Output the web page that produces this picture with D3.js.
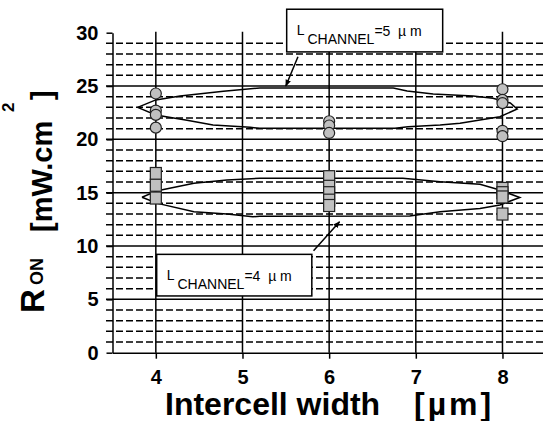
<!DOCTYPE html>
<html>
<head>
<meta charset="utf-8">
<script src="https://cdn.jsdelivr.net/npm/d3@7"></script>
<style>
  body { margin: 0; background: #fff; }
  svg text { font-family: "Liberation Sans", Arial, sans-serif; }
</style>
</head>
<body>
<svg id="chart" width="543" height="421"></svg>
<script>
// data
var widths = [4, 6, 8];
var xTicks = [4, 5, 6, 7, 8];
var yTicks = [0, 5, 10, 15, 20, 25, 30];
var ron5 = [[24.3, 22.7, 22.3, 21.1], [21.7, 21.3, 20.6], [24.7, 23.7, 23.4, 20.8, 20.3]];
var ron4 = [[16.8, 15.7, 14.5], [16.5, 15.6, 15.0, 14.3, 13.8], [15.4, 15.0, 14.6, 13.0]];

// hand drawn outlines round each group (x, y in data units)
var loop5 = [[3.79,23.0],[4.0,23.7],[4.28,24.07],[4.78,24.5],[5.2,24.82],[6.74,24.82],[6.9,24.53],[7.2,24.25],
  [7.66,24.07],[7.89,23.85],[8.09,23.41],[8.17,22.85],[7.97,22.12],[7.51,21.51],[7.28,21.35],[6.91,21.19],
  [6.76,21.04],[5.2,21.04],[5.09,21.13],[4.66,21.35],[4.36,21.8],[4.0,22.28],[3.79,23.0]];
var loop4 = [[3.84,14.57],[4.02,15.19],[4.44,15.88],[4.82,16.19],[5.2,16.35],[6.85,16.35],[7.28,16.03],[7.74,15.79],
  [7.97,15.25],[8.2,14.55],[7.97,13.85],[7.74,13.52],[7.28,13.22],[6.93,12.82],[5.2,12.79],[5.12,12.75],
  [4.82,13.0],[4.44,13.22],[4.02,14.0],[3.84,14.57]];

var labels = [
  {num: '5', box: [5.51, 32.2, 7.31, 28.2], from: [5.64, 27.75], to: [5.5, 25.0]},
  {num: '4', box: [4.01, 9.22, 5.8, 5.32], from: [5.82, 9.56], to: [6.12, 12.28]}
];

var svg = d3.select('#chart');
var x = d3.scaleLinear().domain([3.5, 8.5]).range([112.5, 545.8]);
var y = d3.scaleLinear().domain([0, 30]).range([352.7, 32.7]);

svg.append('defs').append('marker')
    .attr('id', 'head').attr('viewBox', '0 0 10 10')
    .attr('refX', 9).attr('refY', 5)
    .attr('markerWidth', 7).attr('markerHeight', 7)
    .attr('markerUnits', 'userSpaceOnUse')
    .attr('orient', 'auto')
  .append('path').attr('d', 'M0,1 L10,5 L0,9 Z').attr('fill', '#000');

// horizontal grid, one per unit
var grid = svg.append('g');
grid.selectAll('line.h').data(d3.range(1, 30)).enter().append('line')
    .attr('x1', 106).attr('x2', 543)
    .attr('y1', function(d) { return y(d); })
    .attr('y2', function(d) { return y(d); })
    .attr('stroke', '#000').attr('stroke-width', 1.5)
    .attr('stroke-dasharray', function(d) { return d % 5 == 0 ? null : '7,3'; });

grid.selectAll('line.v').data(xTicks).enter().append('line')
    .attr('x1', function(d) { return x(d); })
    .attr('x2', function(d) { return x(d); })
    .attr('y1', y(30) - 1).attr('y2', y(0))
    .attr('stroke', '#000').attr('stroke-width', 1.5);

// axes
var xAxis = svg.append('g').attr('transform', 'translate(0,' + y(0) + ')')
    .call(d3.axisBottom(x).tickValues(xTicks).tickFormat(d3.format('d'))
      .tickSize(6).tickSizeOuter(0).tickPadding(11));
var yAxis = svg.append('g').attr('transform', 'translate(' + x(3.5) + ',0)')
    .call(d3.axisLeft(y).tickValues(yTicks).tickFormat(d3.format('d'))
      .tickSize(6).tickSizeOuter(0).tickPadding(8));

[xAxis, yAxis].forEach(function(a) {
  a.selectAll('path, line').attr('stroke', '#000').attr('stroke-width', 1.5);
  a.selectAll('text').attr('fill', '#000')
      .style('font-size', '20px').style('font-weight', 'bold')
      .style('font-family', '"Liberation Sans", Arial, sans-serif');
});

// outlines
var line = d3.line().x(function(d) { return x(d[0]); }).y(function(d) { return y(d[1]); });
[loop5, loop4].forEach(function(l) {
  svg.append('path').attr('d', line(l))
      .attr('fill', 'none').attr('stroke', '#000').attr('stroke-width', 1.5);
});

// points
widths.forEach(function(w, i) {
  svg.selectAll(null).data(ron5[i]).enter().append('circle')
      .attr('cx', x(w)).attr('cy', function(d) { return y(d); })
      .attr('r', 5.5)
      .attr('fill', '#c0c0c0').attr('stroke', '#222').attr('stroke-width', 1.2);
  svg.selectAll(null).data(ron4[i]).enter().append('rect')
      .attr('x', x(w) - 5.5).attr('y', function(d) { return y(d) - 6; })
      .attr('width', 11).attr('height', 12)
      .attr('fill', '#c0c0c0').attr('stroke', '#222').attr('stroke-width', 1.2);
});

// boxes with arrows
labels.forEach(function(lb) {
  var bx = x(lb.box[0]), by = y(lb.box[1]);
  svg.append('line')
      .attr('x1', x(lb.from[0])).attr('y1', y(lb.from[1]))
      .attr('x2', x(lb.to[0])).attr('y2', y(lb.to[1]))
      .attr('stroke', '#000').attr('stroke-width', 1.5)
      .attr('marker-end', 'url(#head)');
  svg.append('rect')
      .attr('x', bx).attr('y', by)
      .attr('width', x(lb.box[2]) - bx).attr('height', y(lb.box[3]) - by)
      .attr('fill', '#fff').attr('stroke', '#000').attr('stroke-width', 1.5);
  var t = svg.append('text')
      .attr('x', bx + 10).attr('y', by + 26)
      .style('font-size', '14px').style('white-space', 'pre');
  t.append('tspan').text('L');
  t.append('tspan').attr('dx', 3).attr('dy', 9).text('CHANNEL');
  t.append('tspan').attr('dy', -8).text('=' + lb.num + '  \u00b5 m');
});

// axis titles
svg.append('text').attr('x', 165).attr('y', 415)
    .style('font-size', '32px').style('font-weight', 'bold')
    .text('Intercell width');
svg.append('text').attr('x', 414).attr('y', 415)
    .style('font-size', '32px').style('font-weight', 'bold').style('letter-spacing', '3px')
    .text('[\u00b5m]');

var yt = svg.append('g').style('font-weight', 'bold');
yt.append('text').attr('transform', 'translate(44,313) rotate(-90)')
    .style('font-size', '33px').text('R');
yt.append('text').attr('transform', 'translate(43,285) rotate(-90)')
    .style('font-size', '18px').text('ON');
yt.append('text').attr('transform', 'translate(51.5,232) rotate(-90)')
    .style('font-size', '29px').text('[mW.cm');
yt.append('text').attr('transform', 'translate(14,112) rotate(-90)')
    .style('font-size', '17px').text('2');
yt.append('text').attr('transform', 'translate(51.5,100) rotate(-90)')
    .style('font-size', '29px').text(']');
</script>
</body>
</html>
